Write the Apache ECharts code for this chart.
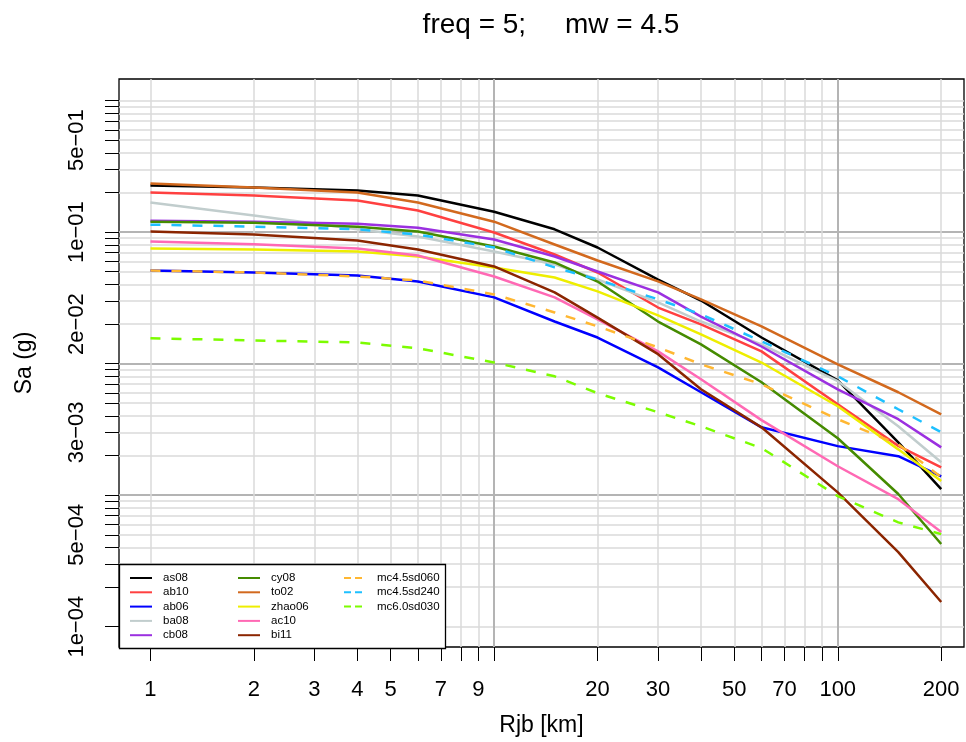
<!DOCTYPE html>
<html>
<head>
<meta charset="utf-8">
<script src="https://cdn.jsdelivr.net/npm/echarts@6/dist/echarts.min.js"></script>
<style>
html,body{margin:0;padding:0;background:#fff;}
#chart{width:966px;height:742px;}
</style>
</head>
<body>
<div id="chart"></div>
<script>
// ---- data ----
const distances = [1, 2, 4, 6, 10, 15, 20, 30, 40, 60, 100, 150, 200];
const as08 = [0.226, 0.218, 0.207, 0.190, 0.143, 0.105, 0.0764, 0.0436, 0.0302, 0.0158, 0.00746, 0.00252, 0.00111];
const ab10 = [0.200, 0.190, 0.174, 0.146, 0.0993, 0.0676, 0.0493, 0.0267, 0.0199, 0.0124, 0.00491, 0.00237, 0.00163];
const ab06 = [0.0511, 0.0493, 0.0468, 0.0421, 0.0319, 0.0209, 0.0158, 0.00937, 0.00606, 0.00328, 0.00236, 0.00198, 0.00139];
const ba08 = [0.168, 0.134, 0.105, 0.0926, 0.0713, 0.0568, 0.0436, 0.0292, 0.0209, 0.0140, 0.00735, 0.00334, 0.00178];
const cb08 = [0.122, 0.120, 0.116, 0.108, 0.0879, 0.0653, 0.0502, 0.0348, 0.0228, 0.0135, 0.00638, 0.00378, 0.00231];
const cy08 = [0.120, 0.118, 0.110, 0.101, 0.0778, 0.0588, 0.0421, 0.0209, 0.0140, 0.00722, 0.00271, 0.00102, 0.000425];
const to02 = [0.234, 0.218, 0.200, 0.168, 0.120, 0.0805, 0.0608, 0.0422, 0.0308, 0.0192, 0.00989, 0.00606, 0.00412];
const zhao06 = [0.0750, 0.0736, 0.0713, 0.0653, 0.0539, 0.0452, 0.0354, 0.0233, 0.0167, 0.0102, 0.00474, 0.00223, 0.00128];
const ac10 = [0.0849, 0.0807, 0.0750, 0.0664, 0.0460, 0.0319, 0.0217, 0.0124, 0.00760, 0.00372, 0.00166, 0.000933, 0.000524];
const bi11 = [0.101, 0.0959, 0.0863, 0.0738, 0.0548, 0.0348, 0.0224, 0.0118, 0.00638, 0.00328, 0.00105, 0.000369, 0.000154];
const mc45sd060 = [0.0511, 0.0493, 0.0460, 0.0429, 0.0336, 0.0245, 0.0192, 0.0133, 0.00989, 0.00697, 0.00378, 0.00244, 0.00137];
const mc45sd240 = [0.114, 0.110, 0.105, 0.0959, 0.0764, 0.0539, 0.0436, 0.0308, 0.0237, 0.0148, 0.00801, 0.00450, 0.00301];
const mc60sd030 = [0.0156, 0.0150, 0.0145, 0.0131, 0.0102, 0.00801, 0.00596, 0.00427, 0.00334, 0.00228, 0.000984, 0.000621, 0.000506];

const xTicks = [1,2,3,4,5,6,7,8,9,10,20,30,40,50,60,70,80,90,100,200];
const xTickLabels = [1,2,3,4,5,7,9,20,30,50,70,100,200];
const xMajor = [10,100];
const yTicks = [1e-4,2e-4,3e-4,4e-4,5e-4,6e-4,7e-4,8e-4,9e-4,
                1e-3,2e-3,3e-3,4e-3,5e-3,6e-3,7e-3,8e-3,9e-3,
                1e-2,2e-2,3e-2,4e-2,5e-2,6e-2,7e-2,8e-2,9e-2,
                1e-1,2e-1,3e-1,4e-1,5e-1,6e-1,7e-1,8e-1,9e-1,1];
const yTickLabels = [1e-4,5e-4,3e-3,2e-2,1e-1,5e-1];
const yMajor = [1e-3,1e-2,1e-1];

const seriesDefs = [
  {name:'as08', data:as08, color:'#000000', dash:false},
  {name:'ab10', data:ab10, color:'#FF4040', dash:false},
  {name:'ab06', data:ab06, color:'#0000FF', dash:false},
  {name:'ba08', data:ba08, color:'#C1CDCD', dash:false},
  {name:'cb08', data:cb08, color:'#9B30E0', dash:false},
  {name:'cy08', data:cy08, color:'#458B00', dash:false},
  {name:'to02', data:to02, color:'#D2691E', dash:false},
  {name:'zhao06', data:zhao06, color:'#EEEE00', dash:false},
  {name:'ac10', data:ac10, color:'#FF69B4', dash:false},
  {name:'bi11', data:bi11, color:'#8B2500', dash:false},
  {name:'mc4.5sd060', data:mc45sd060, color:'#FFB732', dash:true},
  {name:'mc4.5sd240', data:mc45sd240, color:'#1EC0FF', dash:true},
  {name:'mc6.0sd030', data:mc60sd030, color:'#7CFC00', dash:true}
];

const FONT = "'Liberation Sans', Arial, Helvetica, sans-serif";

function fmtY(v){
  const e = Math.floor(Math.log10(v) + 1e-9);
  const m = Math.round(v / Math.pow(10, e));
  const ae = Math.abs(e);
  return m + 'e' + (e < 0 ? '\u2212' : '+') + (ae < 10 ? '0' : '') + ae;
}

const xMin = 0.81, xMax = 233;
const yMin = 7.01e-5, yMax = 1.459;

const series = seriesDefs.map(s => ({
  name: s.name,
  type: 'line',
  xAxisIndex: 0,
  yAxisIndex: 0,
  data: distances.map((d, i) => [d, s.data[i]]),
  showSymbol: false,
  symbol: 'none',
  silent: true,
  z: 2,
  lineStyle: {color: s.color, width: 2.5, type: s.dash ? [10, 11] : 'solid'},
  itemStyle: {color: s.color},
  emphasis: {disabled: true}
}));

const legendCommon = {
  orient: 'vertical',
  top: 571,
  padding: 0,
  itemGap: 0.3,
  itemWidth: 22,
  itemHeight: 14,
  z: 20,
  selectedMode: false,
  itemStyle: {opacity: 0},
  textStyle: {fontFamily: FONT, fontSize: 11.5, color: '#000', lineHeight: 14, padding: [0,0,0,6]}
};

const option = {
  animation: false,
  title: {
    text: 'freq = 5;     mw = 4.5',
    left: 546,
    textAlign: 'center',
    top: 6,
    textStyle: {fontFamily: FONT, fontSize: 28, fontWeight: 'normal', color: '#000'}
  },
  grid: {left: 119, right: 2, top: 79, bottom: 94, show: true, borderColor: '#000', borderWidth: 1.3, backgroundColor: 'transparent', containLabel: false},
  legend: [
    Object.assign({}, legendCommon, {left: 129, data: ['as08','ab10','ab06','ba08','cb08']}),
    Object.assign({}, legendCommon, {left: 237, data: ['cy08','to02','zhao06','ac10','bi11']}),
    Object.assign({}, legendCommon, {left: 343, data: ['mc4.5sd060','mc4.5sd240','mc6.0sd030'], lineStyle: {type: [7, 4]}})
  ],
  graphic: [{
    type: 'rect', z: 10, silent: true,
    shape: {x: 119.5, y: 564.5, width: 326, height: 84},
    style: {fill: '#fff', stroke: '#000', lineWidth: 1.3}
  }],
  xAxis: [
    {
      type: 'log', logBase: 10, min: xMin, max: xMax,
      name: 'Rjb [km]', nameLocation: 'middle', nameGap: 67,
      nameTextStyle: {fontFamily: FONT, fontSize: 23, color: '#000'},
      axisLine: {show: false},
      axisTick: {show: true, inside: false, length: 14, lineStyle: {color: '#000', width: 1}, customValues: xTicks},
      axisLabel: {show: true, margin: 32, fontFamily: FONT, fontSize: 22, color: '#000', customValues: xTickLabels, formatter: v => String(v)},
      splitLine: {show: true, lineStyle: {color: '#DADADA', width: 1.5}},
      minorTick: {show: false}, minorSplitLine: {show: false}
    },
    {
      type: 'log', logBase: 10, min: xMin, max: xMax, gridIndex: 0,
      axisLine: {show: false},
      axisTick: {show: false, customValues: xMajor},
      axisLabel: {show: false},
      splitLine: {show: true, lineStyle: {color: '#B4B4B4', width: 2}}
    }
  ],
  yAxis: [
    {
      type: 'log', logBase: 10, min: yMin, max: yMax,
      name: 'Sa (g)', nameLocation: 'middle', nameGap: 83, nameRotate: 90,
      nameTextStyle: {fontFamily: FONT, fontSize: 23, color: '#000'},
      axisLine: {show: false},
      axisTick: {show: true, inside: false, length: 14, lineStyle: {color: '#000', width: 1}, customValues: yTicks},
      axisLabel: {show: true, margin: 31, rotate: 90, fontFamily: FONT, fontSize: 22, color: '#000', customValues: yTickLabels, formatter: fmtY},
      splitLine: {show: true, lineStyle: {color: '#DADADA', width: 1.5}},
      minorTick: {show: false}, minorSplitLine: {show: false}
    },
    {
      type: 'log', logBase: 10, min: yMin, max: yMax, gridIndex: 0,
      axisLine: {show: false},
      axisTick: {show: false, customValues: yMajor},
      axisLabel: {show: false},
      splitLine: {show: true, lineStyle: {color: '#B4B4B4', width: 2}}
    }
  ],
  series: series
};

const chart = echarts.init(document.getElementById('chart'), null, {renderer: 'canvas'});
chart.setOption(option);
</script>
</body>
</html>
